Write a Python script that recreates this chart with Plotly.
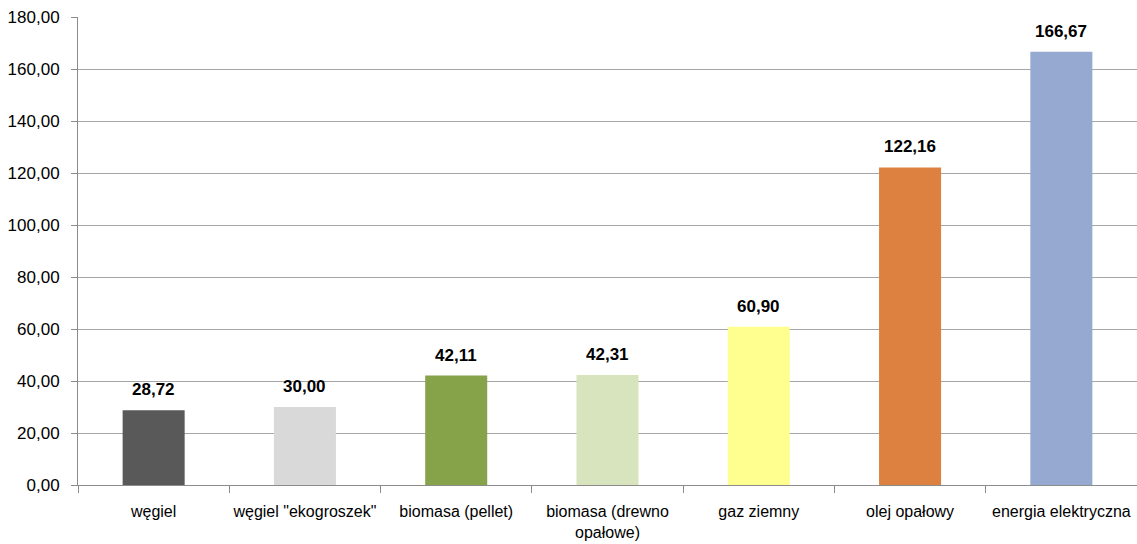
import plotly.graph_objects as go

# Cost of heating by fuel type
categories = [
    "węgiel",
    "węgiel \"ekogroszek\"",
    "biomasa (pellet)",
    "biomasa (drewno<br>opałowe)",
    "gaz ziemny",
    "olej opałowy",
    "energia elektryczna",
]
values = [28.72, 30.00, 42.11, 42.31, 60.90, 122.16, 166.67]
colors = ["#595959", "#d9d9d9", "#86a34a", "#d7e4bd", "#ffff8f", "#dc8140", "#95a9d1"]
y_ticks = [0, 20, 40, 60, 80, 100, 120, 140, 160, 180]

font_family = "Liberation Sans, Arial, sans-serif"

fig = go.Figure(
    go.Bar(
        x=categories,
        y=values,
        marker=dict(color=colors, line=dict(width=0)),
        width=0.41,
        hoverinfo="skip",
    )
)

for c, v in zip(categories, values):
    fig.add_annotation(
        x=c, y=v,
        text="<b>" + f"{v:.2f}".replace(".", ",") + "</b>",
        showarrow=False, yanchor="bottom", yshift=9,
        font=dict(family=font_family, size=17, color="#000000"),
    )

fig.update_layout(
    width=1137, height=544,
    margin=dict(l=78, r=0, t=17, b=59),
    paper_bgcolor="white", plot_bgcolor="white",
    separators=", ",
    showlegend=False,
    font=dict(family=font_family, size=17, color="#000000"),
)
fig.update_xaxes(
    showline=True, linecolor="#8c8c8c", linewidth=1,
    ticks="outside", tickson="boundaries", ticklen=7, tickcolor="#8c8c8c",
    showgrid=False,
    tickangle=0, automargin=False,
    ticklabelstandoff=12,
    tickfont=dict(family=font_family, size=16),
)
fig.update_yaxes(
    range=[0, 180], tickvals=y_ticks, tickformat=".2f",
    showline=True, linecolor="#8c8c8c", linewidth=1,
    ticks="outside", ticklen=6, tickcolor="#8c8c8c",
    showgrid=True, gridcolor="#a6a6a6", gridwidth=1,
    zeroline=False, automargin=False,
    ticklabelstandoff=8,
    tickfont=dict(family=font_family, size=17),
)

fig.write_html("out.html")
